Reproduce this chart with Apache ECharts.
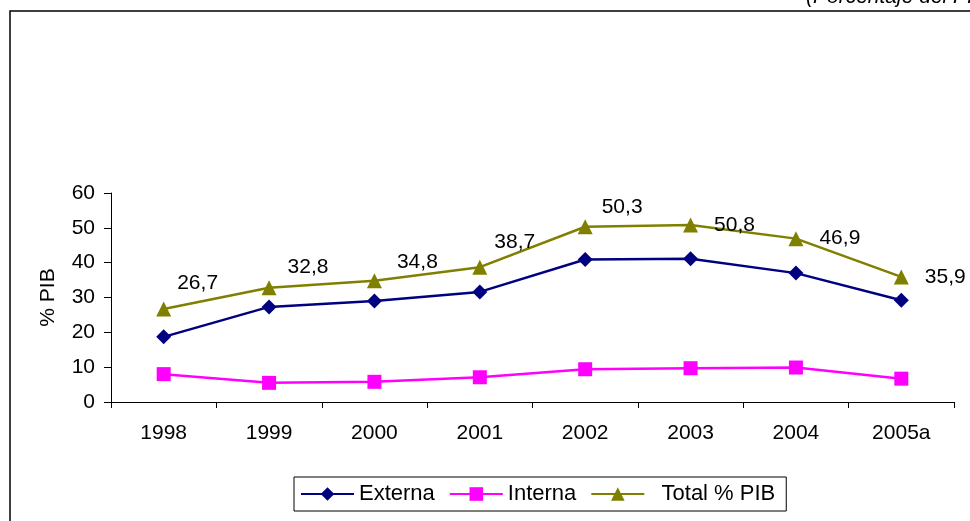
<!DOCTYPE html>
<html>
<head>
<meta charset="utf-8">
<script src="https://cdn.jsdelivr.net/npm/echarts@6/dist/echarts.min.js"></script>
<style>
  html, body { margin: 0; padding: 0; background: #fff; }
  #chart { width: 970px; height: 521px; }
</style>
</head>
<body>
<div id="chart"></div>
<script>
const years = ['1998', '1999', '2000', '2001', '2002', '2003', '2004', '2005a']
const externa = [18.7, 27.3, 29.0, 31.6, 40.9, 41.1, 37.0, 29.2]
const interna = [8.0, 5.5, 5.8, 7.1, 9.4, 9.7, 9.9, 6.7]
const total = [26.7, 32.8, 34.8, 38.7, 50.3, 50.8, 46.9, 35.9]
const yTicks = [0, 10, 20, 30, 40, 50, 60]

// label nudges for the total series (moved by hand in the original)
const totalLabelOffsets = [[-10, -26], [-5, -21], [-1, -19], [-9, -25], [-7, -20], [0, 0], [0, 0], [0, 0]]

const font = 'Liberation Sans, Arial, sans-serif'

const chart = echarts.init(document.getElementById('chart'))

const totalData = total.map((v, i) => ({
    value: v,
    label: { offset: totalLabelOffsets[i] }
}))

const options = {
    backgroundColor: '#fff',
    animation: false,
    textStyle: { fontFamily: font },
    graphic: [
        {
            type: 'rect',
            shape: { x: 10, y: 11, width: 1000, height: 560 },
            style: { fill: 'none', stroke: '#000', lineWidth: 1.5 },
            silent: true
        },
        {
            type: 'text',
            left: 806,
            top: -13,
            style: {
                text: '(Porcentaje del PIB)',
                font: 'italic 21px ' + font,
                fill: '#000'
            }
        }
    ],
    legend: {
        left: 294,
        top: 477,
        padding: [6, 11, 6, 6],
        itemGap: 14,
        itemWidth: 53,
        itemHeight: 17,
        borderColor: '#000',
        borderWidth: 1,
        textStyle: { fontSize: 22, color: '#000', fontFamily: font },
        formatter: name => name === 'Total % PIB' ? '  ' + name : name,
        data: ['Externa', 'Interna', 'Total % PIB']
    },
    grid: {
        left: 111,
        right: 16,
        top: 193,
        bottom: 119,
        containLabel: false
    },
    xAxis: {
        type: 'category',
        data: years,
        boundaryGap: true,
        axisLine: { lineStyle: { color: '#000', width: 1 } },
        axisTick: { show: true, length: 6, alignWithLabel: false, lineStyle: { color: '#000' } },
        axisLabel: { fontSize: 21, color: '#000', margin: 21 }
    },
    yAxis: {
        type: 'value',
        min: yTicks[0],
        max: yTicks[yTicks.length - 1],
        interval: 10,
        name: '% PIB',
        nameLocation: 'middle',
        nameGap: 52,
        nameTextStyle: { fontSize: 21, color: '#000' },
        axisLine: { show: true, lineStyle: { color: '#000', width: 1 } },
        axisTick: { show: true, length: 7, lineStyle: { color: '#000' } },
        axisLabel: { fontSize: 21, color: '#000', margin: 16 },
        splitLine: { show: false }
    },
    series: [
        {
            name: 'Externa',
            type: 'line',
            data: externa,
            symbol: 'diamond',
            symbolSize: 15,
            lineStyle: { color: '#000080', width: 2.5 },
            itemStyle: { color: '#000080' }
        },
        {
            name: 'Interna',
            type: 'line',
            data: interna,
            symbol: 'rect',
            symbolSize: 14,
            lineStyle: { color: '#FF00FF', width: 2.5 },
            itemStyle: { color: '#FF00FF' }
        },
        {
            name: 'Total % PIB',
            type: 'line',
            data: totalData,
            symbol: 'triangle',
            symbolSize: 15,
            lineStyle: { color: '#808000', width: 2.5 },
            itemStyle: { color: '#808000' },
            label: {
                show: true,
                position: 'right',
                distance: 16,
                fontSize: 21,
                color: '#000',
                formatter: p => String(p.value).replace('.', ',')
            }
        }
    ]
}

chart.setOption(options)
</script>
</body>
</html>
